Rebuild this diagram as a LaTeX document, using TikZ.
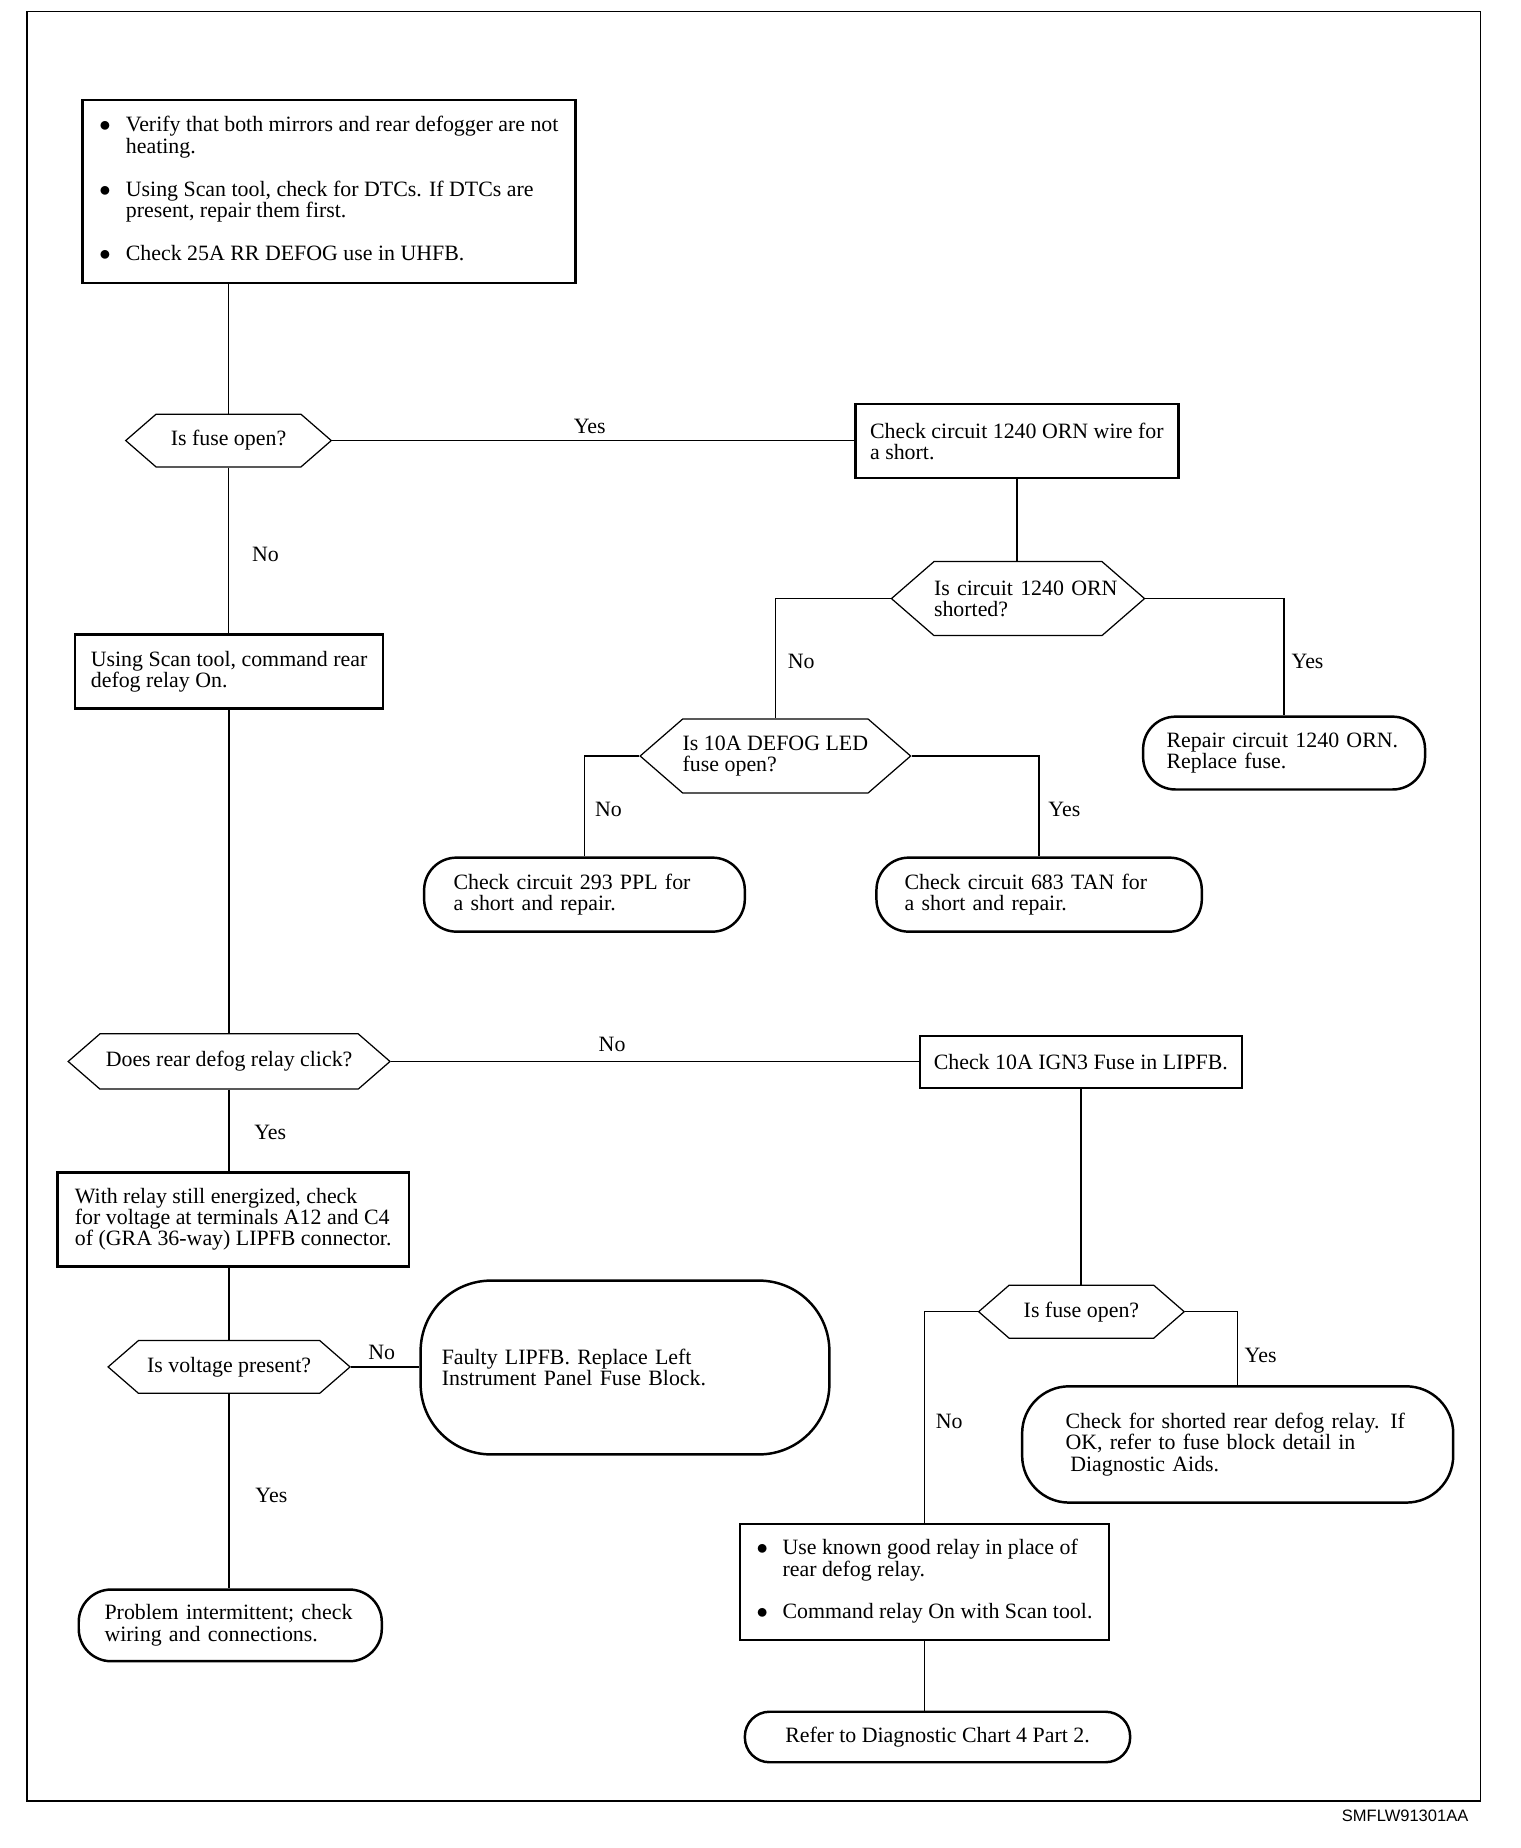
\documentclass[tikz,border=0pt]{standalone}
\usepackage{fontspec}
\setmainfont{Liberation Serif}
\setsansfont{Liberation Sans}
\usetikzlibrary{shapes.symbols}

\begin{document}
\begin{tikzpicture}[x=0.02cm,y=-0.02cm,
		font=\fontsize{10.6}{10.3}\selectfont,
		link/.style={line width=0.7pt},
		box/.style={draw,rectangle,line width=1.2pt,align=left,inner sep=0pt},
		oval/.style={draw,rectangle,line width=1.2pt,rounded corners=#1,align=left,inner ysep=0pt},
		oval/.default=0.55cm,
		query/.style={draw,signal,signal to=east and west,signal pointer angle=82,line width=0.6pt,align=left,inner sep=0pt}]
			\useasboundingbox (0,0) rectangle (1294,1573);
			\draw[line width=0.6pt] (23,10) rectangle (1260,1533);
			
			\node[box,minimum width=8.4cm,minimum height=3.12cm] (check) at (280,163) {\begin{tabular}{@{}p{0.45cm}@{}l@{}}
				$\bullet$ & Verify that both mirrors and rear defogger are not\\
				& heating.\\[10.2pt]
				$\bullet$ & Using Scan tool, check for DTCs. If DTCs are\\
				& present, repair them first.\\[10.2pt]
				$\bullet$ & Check 25A RR DEFOG use in UHFB.
			\end{tabular}};
			\node[query,minimum width=3.5cm,minimum height=0.9cm] (fuseopen) at (194.5,375) {Is fuse open?};
			\node[box,minimum width=5.5cm,minimum height=1.26cm] (shortcheck) at (865.5,375.5) {Check circuit 1240 ORN wire for\\a short.};
			\node[query,minimum width=4.3cm,minimum height=1.26cm,text width=2.86cm] (shorted) at (866.5,509.5) {\mbox{Is circuit 1240 ORN}\\shorted?};
			\node[oval,minimum width=4.8cm,minimum height=1.24cm,inner xsep=0.4cm,text width=4.0cm] (repair) at (1093,641) {Repair circuit 1240 ORN.\\Replace fuse.};
			\node[query,minimum width=4.6cm,minimum height=1.26cm] (ledfuse) at (660,643.5) {Is 10A DEFOG LED\\fuse open?};
			\node[oval,minimum width=5.46cm,minimum height=1.26cm,inner xsep=0.5cm,text width=4.46cm] (ppl) at (497.5,761.5) {Check circuit 293 PPL for\\a short and repair.};
			\node[oval,minimum width=5.54cm,minimum height=1.26cm,inner xsep=0.48cm,text width=4.58cm] (tan) at (884.5,761.5) {Check circuit 683 TAN for\\a short and repair.};
			\node[box,minimum width=5.24cm,minimum height=1.26cm] (scancmd) at (195,571.5) {Using Scan tool, command rear\\defog relay On.};
			\node[query,minimum width=5.48cm,minimum height=0.94cm] (click) at (195,903.5) {Does rear defog relay click?};
			\node[box,minimum width=5.48cm,minimum height=0.88cm] (ign3) at (920,904) {Check 10A IGN3 Fuse in LIPFB.};
			\node[box,minimum width=5.98cm,minimum height=1.6cm] (energized) at (198.5,1038) {With relay still energized, check\\for voltage at terminals A12 and C4\\of (GRA 36-way) LIPFB connector.};
			\node[query,minimum width=4.12cm,minimum height=0.9cm] (voltage) at (195,1163.5) {Is voltage present?};
			\node[oval=1.2cm,minimum width=6.96cm,minimum height=2.96cm,inner xsep=0.36cm,text width=6.24cm] (faulty) at (532,1164) {Faulty LIPFB. Replace Left\\Instrument Panel Fuse Block.};
			\node[oval,minimum width=5.16cm,minimum height=1.22cm,inner xsep=0.44cm,text width=4.28cm] (intermittent) at (196,1383.5) {Problem intermittent; check\\wiring and connections.};
			\node[query,minimum width=3.5cm,minimum height=0.9cm] (fuseopen2) at (920.5,1116.5) {Is fuse open?};
			\node[oval=0.8cm,minimum width=7.34cm,minimum height=1.98cm,inner xsep=0.74cm,text width=5.86cm] (shortrelay) at (1053.5,1229.5) {Check for shorted rear defog relay. If\\OK, refer to fuse block detail in\\\hspace*{0.08cm}Diagnostic Aids.};
			\node[box,minimum width=6.28cm,minimum height=1.98cm] (relaybox) at (787,1346.5) {\begin{tabular}{@{}p{0.44cm}@{}l@{}}
				$\bullet$ & Use known good relay in place of\\
				& rear defog relay.\\[10.2pt]
				$\bullet$ & Command relay On with Scan tool.
			\end{tabular}};
			\node[oval=0.42cm,minimum width=6.56cm,minimum height=0.86cm,align=center] (chart) at (798,1478.5) {Refer to Diagnostic Chart 4 Part 2.};
			
			\draw[link] (check.south -| fuseopen.north) -- (fuseopen.north);
			\draw[link] (fuseopen.east) -- (fuseopen.east -| shortcheck.west);
			\draw[link] (shortcheck.south) -- (shortcheck.south |- shorted.north);
			\draw[link] (shorted.west) -| (ledfuse.north);
			\draw[link] (shorted.east) -| (repair.north);
			\draw[link] (ledfuse.west) -| (ppl.north);
			\draw[link] (ledfuse.east) -| (tan.north);
			\draw[link] (fuseopen.south) -- (fuseopen.south |- scancmd.north);
			\draw[link] (scancmd.south -| click.north) -- (click.north);
			\draw[link] (click.east) -- (click.east -| ign3.west);
			\draw[link] (ign3.south) -- (ign3.south |- fuseopen2.north);
			\draw[link] (fuseopen2.west) -| (relaybox.north);
			\draw[link] (fuseopen2.east) -| (shortrelay.north);
			\draw[link] (relaybox.south) -- (relaybox.south |- chart.north);
			\draw[link] (click.south) -- (click.south |- energized.north);
			\draw[link] (energized.south -| voltage.north) -- (voltage.north);
			\draw[link] (voltage.east) -- (voltage.east -| faulty.west);
			\draw[link] (voltage.south) -- (voltage.south |- intermittent.north);
			
			\node (yes1) at (502,363) {Yes};
			\node (no1) at (226,472) {No};
			\node (no2) at (682,563) {No};
			\node (yes2) at (1113,563) {Yes};
			\node (no3) at (518,689) {No};
			\node (yes3) at (906,689) {Yes};
			\node (no4) at (521,889) {No};
			\node (yes4) at (230,964) {Yes};
			\node (no5) at (325,1151) {No};
			\node (yes5) at (231,1273) {Yes};
			\node (no6) at (808,1210) {No};
			\node (yes6) at (1073,1154) {Yes};
			\node[anchor=east,font=\sffamily\fontsize{8}{9.6}\selectfont] (code) at (1256,1546) {SMFLW91301AA};
		\end{tikzpicture}
\end{document}
